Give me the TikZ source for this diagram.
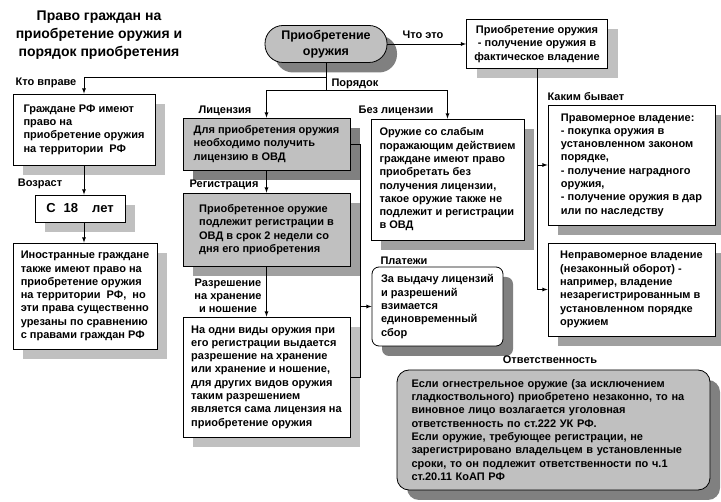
\documentclass[tikz,border=0pt]{standalone}
\usepackage{fontspec}
\setmainfont{Liberation Sans}
\usetikzlibrary{shadows}

\definecolor{boxgray}{HTML}{C0C0C0}
\definecolor{lightshade}{HTML}{C0C0C0}
\definecolor{midshade}{HTML}{A0A0A0}
\definecolor{darkshade}{HTML}{808080}

\newcommand{\txt}{\fontsize{11}{13.3}\selectfont\bfseries}
\newcommand{\bigtxt}{\fontsize{14}{18.3}\selectfont\bfseries}

\tikzset{
  box/.style={rectangle, draw=black, fill=white, line width=0.8pt,
    align=left, font=\txt, inner sep=0pt},
  lightbox/.style={box, drop shadow={shadow xshift=10pt, shadow yshift=-10pt,
    fill=lightshade, opacity=1}},
  midbox/.style={box, drop shadow={shadow xshift=10pt, shadow yshift=-10pt,
    fill=midshade, opacity=1}},
  darkbox/.style={box, drop shadow={shadow xshift=10pt, shadow yshift=-10pt,
    fill=darkshade, opacity=1}},
  tag/.style={font=\txt, inner sep=0pt},
  link/.style={line width=0.8pt, draw=black},
  flow/.style={link, -latex}
}

\begin{document}
\begin{tikzpicture}[x=1pt, y=-1pt]
\useasboundingbox [fill=white] (0, 0) rectangle (721, 502);

% title
\node [font=\bigtxt, align=center, inner sep=0pt] (title) at (99, 35)
  {Право граждан на\\приобретение оружия и\\порядок приобретения};

% central node and definition
\node [darkbox, fill=boxgray, rounded corners=18pt, align=center,
  font=\fontsize{12.5}{16}\selectfont\bfseries,
  minimum width=122pt, minimum height=37pt] (acq) at (326, 44)
  {Приобретение\\оружия};
\node [lightbox, align=center, minimum width=141pt, minimum height=49pt] (def)
  at (537, 44) {Приобретение оружия\\- получение оружия в\\фактическое владение};

% left column
\node [lightbox, minimum width=142pt, minimum height=71pt] (who) at (84, 129.5)
  {Граждане РФ имеют\\право на\\приобретение оружия\\на территории\ \ РФ};
\node [lightbox, font=\fontsize{13}{15}\selectfont\bfseries,
  minimum width=90pt, minimum height=27pt] (age) at (80, 208.5)
  {С\hspace{8pt}18\hspace{14pt}лет};
\node [lightbox, minimum width=144pt, minimum height=106pt] (foreign) at (85, 296)
  {Иностранные граждане\\также имеют право на\\приобретение оружия\\на территории\ \ РФ,\ \ но\\эти права существенно\\урезаны по сравнению\\с правами граждан РФ};

% middle column
\node [darkbox, fill=boxgray, minimum width=167pt, minimum height=52pt] (lic)
  at (266.5, 144) {Для приобретения оружия\\необходимо получить\\лицензию в ОВД};
\node [midbox, fill=boxgray, minimum width=167pt, minimum height=73pt] (reg)
  at (266.5, 229.5) {Приобретенное оружие\\подлежит регистрации в\\ОВД в срок 2 недели со\\дня его приобретения};
\node [lightbox, minimum width=167pt, minimum height=120pt] (perm) at (266.5, 377)
  {На одни виды оружия при\\его регистрации выдается\\разрешение на хранение\\или хранение и ношение,\\для других видов оружия\\таким разрешением\\является сама лицензия на\\приобретение оружия};

% without licence, payments
\node [midbox, minimum width=153pt, minimum height=121pt] (nolic) at (447.5, 179.5)
  {Оружие со слабым\\поражающим действием\\граждане имеют право\\приобретать без\\получения лицензии,\\такое оружие также не\\подлежит и регистрации\\в ОВД};
\node [darkbox, rounded corners=7pt, minimum width=131pt, minimum height=79pt] (fee)
  at (437.5, 306.5) {За выдачу лицензий\\и разрешений\\взимается\\единовременный\\сбор};

% kinds of possession
\node [midbox, minimum width=167pt, minimum height=120pt] (legal) at (631.5, 165)
  {Правомерное владение:\\- покупка оружия в\\установленном законом\\порядке,\\- получение наградного\\оружия,\\- получение оружия в дар\\или по наследству};
\node [midbox, minimum width=167pt, minimum height=93pt] (illegal) at (631.5, 289.5)
  {Неправомерное владение\\(незаконный оборот) -\\например, владение\\незарегистрированным в\\установленном порядке\\оружием};

% liability
\node [darkbox, fill=boxgray, rounded corners=12pt, text width=284pt,
  minimum width=313pt, minimum height=120pt] (resp) at (553.5, 430)
  {Если огнестрельное оружие (за исключением\\гладкоствольного) приобретено незаконно, то на\\виновное лицо возлагается уголовная\\ответственность по ст.222 УК РФ.\\Если оружие, требующее регистрации, не\\зарегистрировано владельцем в установленные\\сроки, то он подлежит ответственности по ч.1\\ст.20.11 КоАП РФ};

% labels
\node [tag] (whatis) at (423, 35) {Что это};
\node [tag] (whocan) at (46, 83) {Кто вправе};
\node [tag] (order) at (355, 84) {Порядок};
\node [tag] (agelbl) at (40, 184) {Возраст};
\node [tag] (liclbl) at (225, 111) {Лицензия};
\node [tag] (reglbl) at (224, 185) {Регистрация};
\node [tag, align=center, font=\fontsize{11}{13}\selectfont\bfseries] (permlbl)
  at (228, 296) {Разрешение\\на хранение\\и ношение};
\node [tag] (nolbl) at (396, 111) {Без лицензии};
\node [tag] (kinds) at (586, 97) {Каким бывает};
\node [tag] (feelbl) at (404, 261) {Платежи};
\node [tag] (resplbl) at (550, 360) {Ответственность};

% connectors
\coordinate (fork) at (326, 77);
\coordinate (split) at (326, 90);
\coordinate (bus) at (360, 144);
\draw [flow] (acq.east) to (def.west);
\draw [link] (acq.south) -- (split);
\draw [flow] (fork) -| (who.north);
\draw [flow] (split) -| (lic.north);
\draw [flow] (split) -| (nolic.north);
\draw [flow] (who.south) -- (who.south |- age.north);
\draw [flow] (who.south |- age.south) -- (who.south |- foreign.north);
\draw [flow] (lic.south) -- (reg.north);
\draw [flow] (reg.south) -- (perm.north);
\draw [link] (lic.east) -- (bus) -- (bus |- perm.east) -- (perm.east);
\draw [flow] (bus |- fee.west) -- (fee.west);
\draw [link] (def.south) -- (def.south |- illegal.west);
\draw [flow] (def.south |- legal.west) -- (legal.west);
\draw [flow] (def.south |- illegal.west) -- (illegal.west);
\end{tikzpicture}
\end{document}
